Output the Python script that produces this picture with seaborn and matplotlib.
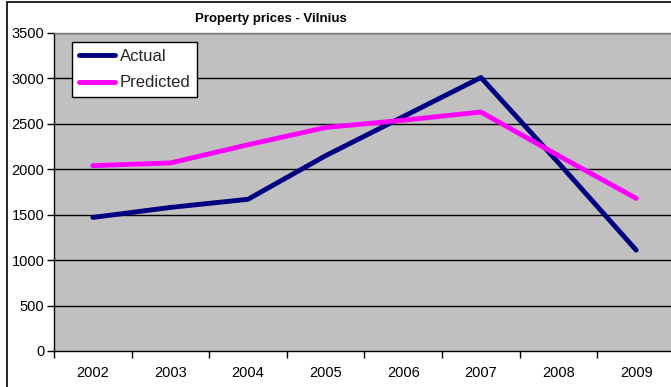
import matplotlib
matplotlib.use("Agg")
import matplotlib.pyplot as plt
from matplotlib.patches import Rectangle
import seaborn as sns
import pandas as pd
import numpy as np

years = ["2002", "2003", "2004", "2005", "2006", "2007", "2008", "2009"]
actual = [1470, 1580, 1670, 2150, 2580, 3010, 2070, 1110]
predicted = [2040, 2070, 2270, 2460, 2540, 2630, 2150, 1680]
y_ticks = [0, 500, 1000, 1500, 2000, 2500, 3000, 3500]

sns.set_theme(style="white")
plt.rcParams["font.family"] = ["Liberation Sans", "DejaVu Sans"]

W, H = 671, 387
fig = plt.figure(figsize=(W / 100, H / 100), dpi=100)
fig.patch.set_facecolor("white")

# plot area in pixel terms: left 54, top 33, bottom 351, right just past the edge
left, top, bottom, right = 54, 33, 351, 675
ax = fig.add_axes([left / W, (H - bottom) / H, (right - left) / W, (bottom - top) / H])
ax.set_facecolor("#C0C0C0")

pos = np.arange(len(years))
df = pd.DataFrame({
    "pos": np.concatenate([pos, pos]),
    "price": actual + predicted,
    "series": ["Actual"] * len(years) + ["Predicted"] * len(years),
})

for yv in y_ticks[1:]:
    ax.axhline(yv, color="black", lw=1, zorder=1)

sns.lineplot(data=df, x="pos", y="price", hue="series",
             palette={"Actual": "#000080", "Predicted": "#FF00FF"},
             linewidth=3.5, ax=ax, zorder=3)

ax.set_xlim(-0.5, len(years) - 0.5)
ax.set_ylim(0, 3500)
ax.set_xlabel("")
ax.set_ylabel("")

ax.set_xticks(pos)
ax.set_xticklabels(years, fontsize=10.5, color="black")
ax.set_xticks(np.arange(-0.5, len(years)), minor=True)
ax.tick_params(axis="x", which="major", length=0, pad=11)
ax.tick_params(axis="x", which="minor", length=5, width=1, color="black", direction="out", bottom=True)
ax.set_yticks(y_ticks)
ax.set_yticklabels([str(v) for v in y_ticks], fontsize=10.5, color="black")
ax.tick_params(axis="y", length=5, width=1, color="black", direction="out", left=True, pad=2)

for s in ["left", "bottom"]:
    ax.spines[s].set_color("black")
    ax.spines[s].set_linewidth(1)
ax.spines["top"].set_color("#808080")
ax.spines["top"].set_linewidth(1)
ax.spines["right"].set_visible(False)

leg = ax.legend(loc="upper left", bbox_to_anchor=((72 - left) / (right - left), 1 - (42 - top) / (bottom - top)),
                fontsize=12, frameon=True, fancybox=False, handlelength=2.2,
                handletextpad=0.25, borderpad=0.4, labelspacing=0.7, borderaxespad=0)
leg.get_frame().set_edgecolor("black")
leg.get_frame().set_linewidth(1)
leg.get_frame().set_facecolor("white")
leg.get_frame().set_alpha(1)
for h in leg.get_lines():
    h.set_linewidth(3.5)

fig.text(271 / W, 1 - 19 / H, "Property prices - Vilnius", ha="center", va="center",
         fontsize=9.5, fontweight="bold", color="black")

# chart frame
fig.add_artist(Rectangle((7 / W, -0.1), 1.2, 1 - 2 / H + 0.1, transform=fig.transFigure,
                         fill=False, edgecolor="black", lw=1.2))

fig.savefig("out.png", dpi=100)
